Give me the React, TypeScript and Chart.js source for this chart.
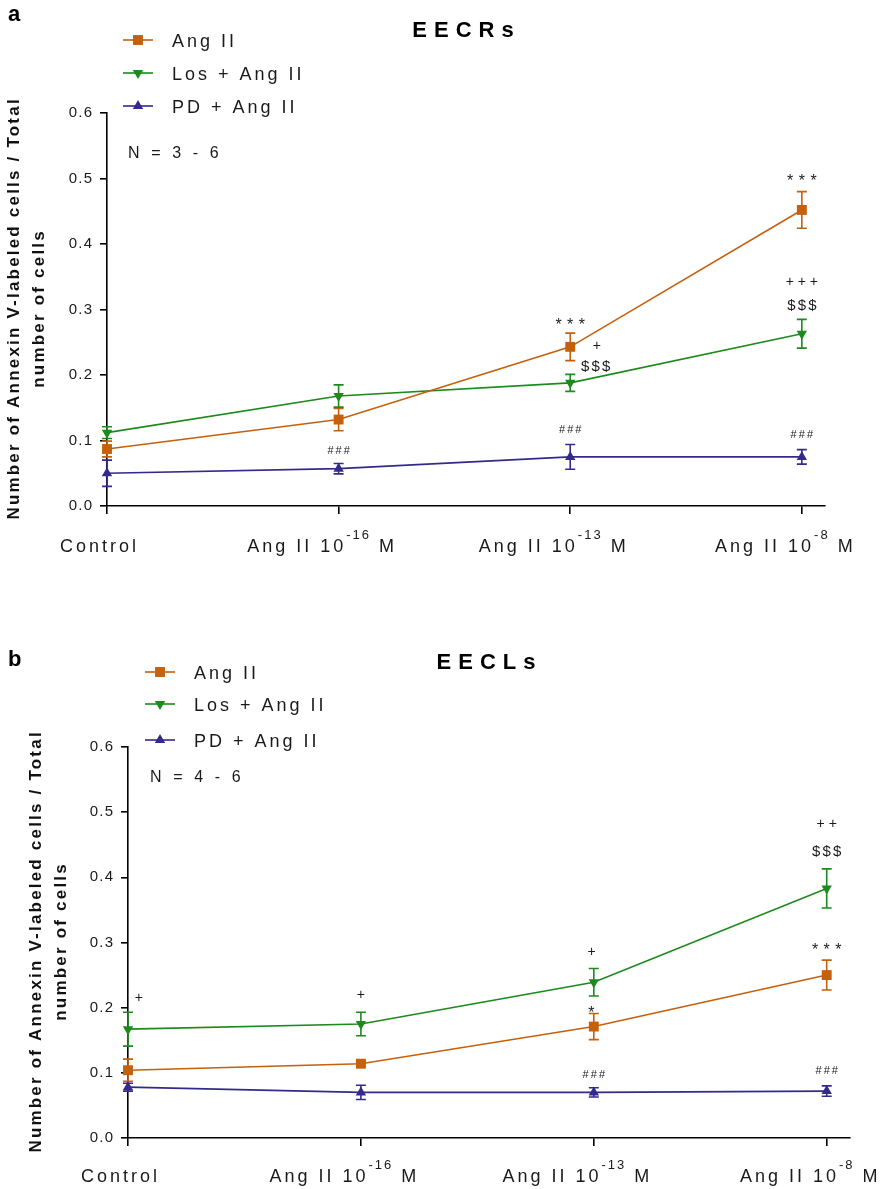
import React, { useEffect, useRef } from 'react';
import { Chart, registerables } from 'chart.js';

Chart.register(...registerables);

// ---------- DATA ----------
const xLabelMain = ['Control', 'Ang II 10', 'Ang II 10', 'Ang II 10'];
const xLabelSup = ['', '-16', '-13', '-8'];
const xLabelTail = ['', ' M', ' M', ' M'];
const seriesNames = ['Ang II', 'Los + Ang II', 'PD + Ang II'];

// panel a: EECRs
const eecrAng = [0.087, 0.132, 0.243, 0.452];
const eecrAngErr = [0.012, 0.017, 0.021, 0.028];
const eecrLos = [0.112, 0.168, 0.188, 0.263];
const eecrLosErr = [0.009, 0.017, 0.013, 0.022];
const eecrPd = [0.05, 0.057, 0.075, 0.075];
const eecrPdErr = [0.02, 0.008, 0.019, 0.011];
const eecrNotes = [
  { x: 2, y: 0.284, text: '* * *', kind: 'star' },
  { x: 3, y: 0.504, text: '* * *', kind: 'star' },
  { x: 2.115, y: 0.246, text: '+', kind: 'plus' },
  { x: 2.11, y: 0.215, text: '$ $ $', kind: 'dollar' },
  { x: 3, y: 0.343, text: '+ + +', kind: 'plus' },
  { x: 3, y: 0.309, text: '$ $ $', kind: 'dollar' },
  { x: 1, y: 0.086, text: '# # #', kind: 'hash' },
  { x: 2, y: 0.117, text: '# # #', kind: 'hash' },
  { x: 3, y: 0.11, text: '# # #', kind: 'hash' },
];

// panel b: EECLs
const eeclAng = [0.104, 0.114, 0.171, 0.25];
const eeclAngErr = [0.017, 0.004, 0.02, 0.023];
const eeclLos = [0.167, 0.175, 0.239, 0.383];
const eeclLosErr = [0.026, 0.018, 0.021, 0.03];
const eeclPd = [0.078, 0.07, 0.07, 0.072];
const eeclPdErr = [0.006, 0.011, 0.007, 0.008];
const eeclNotes = [
  { x: 0.047, y: 0.216, text: '+', kind: 'plus' },
  { x: 1, y: 0.221, text: '+', kind: 'plus' },
  { x: 1.99, y: 0.287, text: '+', kind: 'plus' },
  { x: 3, y: 0.483, text: '+ +', kind: 'plus' },
  { x: 3, y: 0.442, text: '$ $ $', kind: 'dollar' },
  { x: 1.99, y: 0.2, text: '*', kind: 'star' },
  { x: 3, y: 0.296, text: '* * *', kind: 'star' },
  { x: 2, y: 0.098, text: '# # #', kind: 'hash' },
  { x: 3, y: 0.105, text: '# # #', kind: 'hash' },
];

const yTicks = [0, 0.1, 0.2, 0.3, 0.4, 0.5, 0.6];
const xTicks = [0, 1, 2, 3];

// ---------- STYLE ----------
const FONT = '"Liberation Sans", Arial, Helvetica, sans-serif';
const COLORS = ['#C5600D', '#1C8A1C', '#342A8C'];
const POINT_STYLES = ['rect', 'triangle', 'triangle'];
const POINT_ROT = [0, 180, 0];
const POINT_RADIUS = [7, 6, 6];
const TEXT = '#1a1a1a';

type Panel = {
  letter: string;
  title: string;
  nText: string;
  ang: number[]; angErr: number[];
  los: number[]; losErr: number[];
  pd: number[]; pdErr: number[];
  notes: { x: number; y: number; text: string; kind: string }[];
  canvasH: number;
  padTop: number;
  yWidth: number;
  padRight: number;
  xHeight: number;
  letterPos: [number, number];
  titlePos: [number, number];
  legendX: number;
  legendRows: number[];
  legendTextX: number;
  nPos: [number, number];
  yTitleX: [number, number];
  xLabelBase: number;
};

const panels: Panel[] = [
  {
    letter: 'a', title: 'EECRs', nText: 'N = 3 - 6',
    ang: eecrAng, angErr: eecrAngErr, los: eecrLos, losErr: eecrLosErr, pd: eecrPd, pdErr: eecrPdErr,
    notes: eecrNotes,
    canvasH: 595, padTop: 113, yWidth: 107, padRight: 55, xHeight: 89,
    letterPos: [8, 21], titlePos: [463, 37], legendX: 123, legendRows: [40, 73, 106], legendTextX: 172,
    nPos: [128, 158], yTitleX: [19, 44], xLabelBase: 552,
  },
  {
    letter: 'b', title: 'EECLs', nText: 'N = 4 - 6',
    ang: eeclAng, angErr: eeclAngErr, los: eeclLos, losErr: eeclLosErr, pd: eeclPd, pdErr: eeclPdErr,
    notes: eeclNotes,
    canvasH: 594, padTop: 152, yWidth: 128, padRight: 30, xHeight: 51,
    letterPos: [8, 71], titlePos: [486, 74], legendX: 145, legendRows: [77, 109, 145], legendTextX: 194,
    nPos: [150, 187], yTitleX: [41, 66], xLabelBase: 587,
  },
];

const X_LABEL_SHIFT = [-9, -18, -18, -18];

function spaced(
  ctx: CanvasRenderingContext2D, text: string, x: number, y: number,
  size: number, weight: string, spacing: number, align: 'left' | 'center' | 'right', color = TEXT,
): number {
  ctx.save();
  ctx.font = `${weight} ${size}px ${FONT}`;
  (ctx as any).letterSpacing = spacing + 'px';
  ctx.fillStyle = color;
  ctx.textAlign = 'left';
  ctx.textBaseline = 'alphabetic';
  const w = ctx.measureText(text).width - spacing;
  let sx = x;
  if (align === 'center') sx = x - w / 2;
  else if (align === 'right') sx = x - w;
  ctx.fillText(text, sx, y);
  ctx.restore();
  return w;
}

function measure(ctx: CanvasRenderingContext2D, text: string, size: number, weight: string, spacing: number) {
  ctx.save();
  ctx.font = `${weight} ${size}px ${FONT}`;
  (ctx as any).letterSpacing = spacing + 'px';
  const w = ctx.measureText(text).width;
  ctx.restore();
  return w;
}

function drawMarker(ctx: CanvasRenderingContext2D, i: number, x: number, y: number) {
  ctx.save();
  ctx.fillStyle = COLORS[i];
  ctx.strokeStyle = COLORS[i];
  const r = POINT_RADIUS[i];
  ctx.beginPath();
  if (POINT_STYLES[i] === 'rect') {
    const s = r * Math.SQRT1_2;
    ctx.rect(x - s, y - s, 2 * s, 2 * s);
  } else {
    let rad = (POINT_ROT[i] * Math.PI) / 180;
    ctx.moveTo(x + Math.sin(rad) * r, y - Math.cos(rad) * r);
    rad += (2 * Math.PI) / 3;
    ctx.lineTo(x + Math.sin(rad) * r, y - Math.cos(rad) * r);
    rad += (2 * Math.PI) / 3;
    ctx.lineTo(x + Math.sin(rad) * r, y - Math.cos(rad) * r);
    ctx.closePath();
  }
  ctx.fill();
  ctx.restore();
}

function makeChart(canvas: HTMLCanvasElement, p: Panel) {
  const values = [p.ang, p.los, p.pd];
  const errs = [p.angErr, p.losErr, p.pdErr];

  const datasets = values.map((vals, i) => ({
    label: seriesNames[i],
    data: vals.map((v, k) => ({ x: xTicks[k], y: v })),
    borderColor: COLORS[i],
    backgroundColor: COLORS[i],
    borderWidth: 1.6,
    pointStyle: POINT_STYLES[i] as any,
    rotation: POINT_ROT[i],
    pointRadius: POINT_RADIUS[i],
    pointBorderWidth: 0,
    pointHoverRadius: POINT_RADIUS[i],
    clip: false as any,
    tension: 0,
  }));

  const errorBars = {
    id: 'errorBars',
    beforeDatasetsDraw(chart: any) {
      const ctx = chart.ctx as CanvasRenderingContext2D;
      const xs = chart.scales.x;
      const ys = chart.scales.y;
      values.forEach((vals, i) => {
        ctx.save();
        ctx.strokeStyle = COLORS[i];
        ctx.lineWidth = 1.6;
        vals.forEach((v, k) => {
          const e = errs[i][k];
          const px = xs.getPixelForValue(xTicks[k]);
          const top = ys.getPixelForValue(v + e);
          const bot = ys.getPixelForValue(v - e);
          ctx.beginPath();
          ctx.moveTo(px, top); ctx.lineTo(px, bot);
          ctx.moveTo(px - 5, top); ctx.lineTo(px + 5, top);
          ctx.moveTo(px - 5, bot); ctx.lineTo(px + 5, bot);
          ctx.stroke();
        });
        ctx.restore();
      });
    },
  };

  const decorations = {
    id: 'decorations',
    afterDraw(chart: any) {
      const ctx = chart.ctx as CanvasRenderingContext2D;
      const xs = chart.scales.x;
      const ys = chart.scales.y;
      const area = chart.chartArea;

      // panel letter and title
      spaced(ctx, p.letter, p.letterPos[0], p.letterPos[1], 22, 'bold', 0, 'left', '#000');
      spaced(ctx, p.title, p.titlePos[0], p.titlePos[1], 22, 'bold', 7, 'center', '#000');

      // legend
      seriesNames.forEach((name, i) => {
        const y = p.legendRows[i];
        ctx.save();
        ctx.strokeStyle = COLORS[i];
        ctx.lineWidth = 1.6;
        ctx.beginPath();
        ctx.moveTo(p.legendX, y); ctx.lineTo(p.legendX + 30, y);
        ctx.stroke();
        ctx.restore();
        drawMarker(ctx, i, p.legendX + 15, y);
        spaced(ctx, name, p.legendTextX, y + 6.5, 18, 'normal', 3, 'left');
      });

      // N text
      spaced(ctx, p.nText, p.nPos[0], p.nPos[1], 16, 'normal', 3.6, 'left');

      // y axis title (rotated)
      const cy = (area.top + area.bottom) / 2;
      const yTitle = ['Number of Annexin V-labeled cells / Total', 'number of cells'];
      yTitle.forEach((t, j) => {
        ctx.save();
        ctx.translate(p.yTitleX[j], cy);
        ctx.rotate(-Math.PI / 2);
        spaced(ctx, t, 0, 0, 17, 'bold', 2.2, 'center', '#111');
        ctx.restore();
      });

      // x labels with superscript
      xTicks.forEach((v, k) => {
        const cx = xs.getPixelForValue(v) + X_LABEL_SHIFT[k];
        const main = xLabelMain[k];
        const sup = xLabelSup[k];
        const tail = xLabelTail[k];
        const w1 = measure(ctx, main, 18, 'normal', 3);
        const w2 = sup ? measure(ctx, sup, 13, 'normal', 2) : 0;
        const w3 = tail ? measure(ctx, tail, 18, 'normal', 3) : 0;
        const total = w1 + w2 + w3 - 3;
        let sx = cx - total / 2;
        spaced(ctx, main, sx, p.xLabelBase, 18, 'normal', 3, 'left');
        sx += w1;
        if (sup) {
          spaced(ctx, sup, sx, p.xLabelBase - 13, 13, 'normal', 2, 'left');
          sx += w2;
        }
        if (tail) spaced(ctx, tail, sx, p.xLabelBase, 18, 'normal', 3, 'left');
      });

      // significance annotations
      p.notes.forEach((n) => {
        const px = xs.getPixelForValue(n.x);
        const py = ys.getPixelForValue(n.y);
        if (n.kind === 'star') spaced(ctx, n.text, px, py + 10, 16, 'normal', 0.5, 'center');
        else if (n.kind === 'plus') spaced(ctx, n.text, px, py + 5, 14, 'normal', 0, 'center');
        else if (n.kind === 'dollar') spaced(ctx, n.text, px, py + 6, 15, 'normal', -1, 'center');
        else spaced(ctx, n.text, px, py + 4, 11, 'normal', -0.5, 'center');
      });
    },
  };

  return new Chart(canvas, {
    type: 'line',
    data: { datasets: datasets as any },
    options: {
      animation: false,
      responsive: false,
      devicePixelRatio: 1,
      events: [],
      layout: { padding: { top: p.padTop, right: p.padRight, left: 0, bottom: 0 } },
      plugins: { legend: { display: false }, tooltip: { enabled: false }, title: { display: false } },
      scales: {
        x: {
          type: 'linear',
          min: 0,
          max: 3.1,
          afterBuildTicks: (s: any) => { s.ticks = xTicks.map((v) => ({ value: v })); },
          afterFit: (s: any) => { s.height = p.xHeight; },
          border: { display: true, color: '#000', width: 1.6 },
          grid: { drawOnChartArea: false, drawTicks: true, tickLength: 8, color: '#000', lineWidth: 1.6 },
          ticks: { callback: () => '', font: { size: 1 } },
        },
        y: {
          type: 'linear',
          min: 0,
          max: 0.6,
          afterBuildTicks: (s: any) => { s.ticks = yTicks.map((v) => ({ value: v })); },
          afterFit: (s: any) => { s.width = p.yWidth; },
          border: { display: true, color: '#000', width: 1.6 },
          grid: { drawOnChartArea: false, drawTicks: true, tickLength: 7, color: '#000', lineWidth: 1.6 },
          ticks: {
            padding: 8,
            color: TEXT,
            font: { family: FONT, size: 15 },
            callback: (v: any) => Number(v).toFixed(1).split('').join('\u200A'),
          },
        },
      },
    },
    plugins: [errorBars, decorations],
  });
}

function PanelChart({ p }: { p: Panel }) {
  const ref = useRef<HTMLCanvasElement | null>(null);
  useEffect(() => {
    if (!ref.current) return;
    const chart = makeChart(ref.current, p);
    return () => chart.destroy();
  }, [p]);
  return <canvas ref={ref} width={880} height={p.canvasH} style={{ display: 'block', width: 880, height: p.canvasH }} />;
}

export default function App() {
  return (
    <div style={{ position: 'absolute', left: 0, top: 0, width: 880, height: 1189, background: '#fff' }}>
      {panels.map((p) => (
        <PanelChart key={p.letter} p={p} />
      ))}
    </div>
  );
}
